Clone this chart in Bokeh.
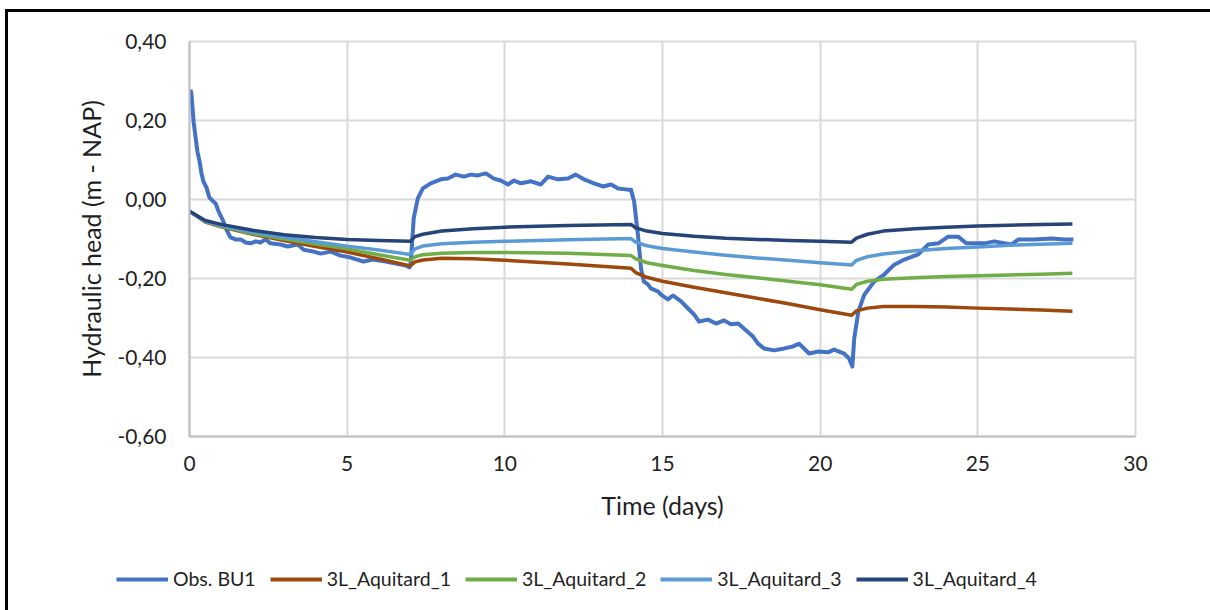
from bokeh.plotting import figure
from bokeh.models import (Legend, LegendItem, FixedTicker, Range1d, CustomJSTickFormatter,
                          InlineStyleSheet)
from bokeh.embed import file_html
from bokeh.resources import INLINE

# Observed hydraulic head at BU1 (time in days, head in m - NAP)
obs_t = [0.03, 0.06, 0.13, 0.19, 0.25, 0.32, 0.38, 0.44, 0.54, 0.63, 0.73, 0.83, 0.92,
         1.05, 1.17, 1.30, 1.46, 1.62, 1.78, 1.94, 2.10, 2.25, 2.41, 2.57, 2.89, 3.11,
         3.43, 3.62, 3.94, 4.16, 4.48, 4.79, 5.11, 5.52, 5.81, 6.22, 6.54, 6.86, 6.98,
         7.02, 7.11, 7.24, 7.40, 7.65, 7.97, 8.19, 8.44, 8.70, 8.92, 9.14, 9.40, 9.65,
         9.87, 10.10, 10.29, 10.51, 10.83, 11.14, 11.37, 11.68, 12.00, 12.25, 12.51,
         12.83, 13.11, 13.37, 13.59, 13.90, 14.00, 14.10, 14.22, 14.32, 14.41, 14.54,
         14.63, 14.86, 14.95, 15.17, 15.33, 15.59, 15.81, 16.00, 16.16, 16.44, 16.70,
         16.95, 17.17, 17.40, 17.59, 17.87, 18.03, 18.22, 18.54, 18.86, 19.14, 19.33,
         19.65, 19.94, 20.25, 20.44, 20.76, 20.92, 21.02, 21.08, 21.21, 21.40, 21.71,
         22.03, 22.35, 22.67, 23.11, 23.43, 23.75, 24.06, 24.38, 24.63, 25.21, 25.52,
         26.06, 26.29, 26.79, 27.33, 27.75, 28.03]
obs_h = [0.278, 0.268, 0.197, 0.159, 0.122, 0.096, 0.066, 0.046, 0.030, 0.005, -0.003,
         -0.010, -0.030, -0.051, -0.076, -0.096, -0.101, -0.101, -0.109, -0.111, -0.106,
         -0.109, -0.101, -0.111, -0.114, -0.119, -0.114, -0.127, -0.132, -0.137, -0.132,
         -0.142, -0.147, -0.157, -0.152, -0.157, -0.162, -0.167, -0.172, -0.157, -0.048,
         0.003, 0.028, 0.041, 0.051, 0.053, 0.063, 0.058, 0.063, 0.061, 0.066, 0.053,
         0.048, 0.038, 0.048, 0.041, 0.046, 0.038, 0.058, 0.051, 0.053, 0.063, 0.051,
         0.041, 0.033, 0.038, 0.028, 0.025, 0.025, -0.005, -0.089, -0.175, -0.208,
         -0.215, -0.225, -0.233, -0.241, -0.253, -0.243, -0.258, -0.276, -0.291, -0.309,
         -0.304, -0.314, -0.306, -0.316, -0.314, -0.327, -0.347, -0.365, -0.377, -0.382,
         -0.377, -0.372, -0.365, -0.390, -0.385, -0.387, -0.380, -0.390, -0.403, -0.423,
         -0.352, -0.284, -0.241, -0.208, -0.190, -0.165, -0.152, -0.139, -0.114, -0.111,
         -0.094, -0.094, -0.111, -0.111, -0.106, -0.114, -0.101, -0.101, -0.099, -0.101,
         -0.101]

# Simulated heads of the three-layer model, one series per aquitard
model_t = [0, 0.5, 1, 2, 3, 4, 5, 6, 7, 7.15, 7.4, 8, 9, 10, 12, 14, 14.15, 14.5, 15,
           16, 17, 18, 19, 20, 21, 21.15, 21.5, 22, 23, 24, 25, 26, 27, 28]
aquitard_1 = [-0.030, -0.057, -0.069, -0.088, -0.104, -0.119, -0.133, -0.150, -0.168,
              -0.158, -0.153, -0.149, -0.150, -0.154, -0.163, -0.174, -0.185, -0.197,
              -0.207, -0.222, -0.236, -0.250, -0.264, -0.279, -0.293, -0.282, -0.275,
              -0.271, -0.271, -0.272, -0.275, -0.277, -0.280, -0.283]
aquitard_2 = [-0.030, -0.056, -0.068, -0.086, -0.100, -0.113, -0.125, -0.140, -0.154,
              -0.145, -0.140, -0.136, -0.134, -0.134, -0.136, -0.142, -0.150, -0.160,
              -0.167, -0.180, -0.190, -0.198, -0.207, -0.216, -0.227, -0.215, -0.207,
              -0.202, -0.198, -0.195, -0.193, -0.191, -0.189, -0.187]
aquitard_3 = [-0.030, -0.055, -0.066, -0.083, -0.095, -0.107, -0.118, -0.128, -0.139,
              -0.125, -0.118, -0.112, -0.108, -0.106, -0.102, -0.099, -0.108, -0.117,
              -0.124, -0.133, -0.141, -0.148, -0.154, -0.160, -0.166, -0.154, -0.145,
              -0.138, -0.130, -0.124, -0.120, -0.116, -0.113, -0.111]
aquitard_4 = [-0.030, -0.053, -0.063, -0.078, -0.089, -0.096, -0.101, -0.104, -0.106,
              -0.094, -0.088, -0.080, -0.074, -0.070, -0.066, -0.063, -0.072, -0.080,
              -0.086, -0.093, -0.098, -0.101, -0.104, -0.106, -0.108, -0.098, -0.088,
              -0.080, -0.074, -0.070, -0.067, -0.065, -0.063, -0.062]

series_names = ["Obs. BU1", "3L_Aquitard_1", "3L_Aquitard_2", "3L_Aquitard_3", "3L_Aquitard_4"]
series_colors = ["#4472c4", "#9e480e", "#70ad47", "#5b9bd5", "#264478"]

x_ticks = [0, 5, 10, 15, 20, 25, 30]
y_ticks = [-0.6, -0.4, -0.2, 0.0, 0.2, 0.4]

FONT = "Lato"
TEXT = "#1f1f1f"
GRID = "#d9d9d9"
WIDTH = 1210

# black frame edge along the left and top of the whole chart: an inset black
# band with a narrower white band over it, showing through the transparent border
EDGE_TOP = "inset 5px 9px 0 0 #fff, inset 8px 12px 0 0 #000"
EDGE_LEFT = "inset 5px 0 0 0 #fff, inset 8px 0 0 0 #000"

# no scrollbars inside the plot elements
NO_SCROLL = InlineStyleSheet(css=":host { overflow: hidden !important; } "
                                 "* { scrollbar-width: none !important; overflow: hidden !important; } "
                                 "::-webkit-scrollbar { display: none; width: 0; height: 0; }")

# ---- chart ----
p = figure(width=WIDTH, height=540, output_backend="svg", toolbar_location=None,
           x_range=Range1d(0, 30), y_range=Range1d(-0.6, 0.4),
           min_border_left=189, min_border_right=WIDTH - 1135, min_border_top=41,
           min_border_bottom=104, styles={"box-shadow": EDGE_TOP, "overflow": "hidden"},
           stylesheets=[NO_SCROLL])
p.background_fill_color = "white"
p.border_fill_alpha = 0
p.outline_line_color = GRID
p.outline_line_width = 2

for ax in (p.xaxis[0], p.yaxis[0]):
    ax.axis_line_color = "#bfbfbf"
    ax.axis_line_width = 2
    ax.major_tick_line_color = None
    ax.minor_tick_line_color = None
    ax.major_tick_out = 0
    ax.major_tick_in = 0
    ax.major_label_text_font = FONT
    ax.major_label_text_font_size = "21px"
    ax.major_label_text_color = TEXT
    ax.axis_label_text_font = FONT
    ax.axis_label_text_font_size = "25px"
    ax.axis_label_text_font_style = "normal"
    ax.axis_label_text_color = TEXT

p.xaxis.ticker = FixedTicker(ticks=x_ticks)
p.yaxis.ticker = FixedTicker(ticks=y_ticks)
p.yaxis.formatter = CustomJSTickFormatter(code="return tick.toFixed(2).replace('.', ',');")
p.xaxis.axis_label = "Time (days)"
p.yaxis.axis_label = "Hydraulic head (m - NAP)"
p.xaxis.major_label_standoff = 19
p.xaxis.axis_label_standoff = 16
p.yaxis.major_label_standoff = 23
p.yaxis.axis_label_standoff = 8

p.xgrid.grid_line_color = GRID
p.ygrid.grid_line_color = GRID
p.xgrid.grid_line_width = 2
p.ygrid.grid_line_width = 2

series = [(obs_t, obs_h, 4.0), (model_t, aquitard_1, 3.5), (model_t, aquitard_2, 3.5),
          (model_t, aquitard_3, 3.5), (model_t, aquitard_4, 3.5)]
for (t, h, w), c in zip(series, series_colors):
    p.line(t, h, line_color=c, line_width=w, line_join="round")

# ---- legend strip under the chart (a separate root, so its frame spans the width) ----
leg = figure(width=WIDTH, height=70, output_backend="svg", toolbar_location=None,
             x_range=Range1d(0, WIDTH), y_range=Range1d(0, 70),
             x_axis_type=None, y_axis_type=None, min_border=0,
             styles={"box-shadow": EDGE_LEFT, "overflow": "hidden"},
             stylesheets=[NO_SCROLL])
leg.outline_line_color = None
leg.background_fill_alpha = 0
leg.border_fill_alpha = 0
items = []
for c, name in zip(series_colors, series_names):
    # placeholder renderer carrying the line style for the legend sample
    r = leg.line([float("nan")], [float("nan")], line_color=c, line_width=4)
    items.append(LegendItem(label=name, renderers=[r]))

legend = Legend(items=items, orientation="horizontal", location=(116, 20))
legend.label_text_font = FONT
legend.label_text_font_size = "19.5px"
legend.label_text_color = TEXT
legend.glyph_width = 52
legend.glyph_height = 20
legend.label_standoff = 5
legend.spacing = 14
legend.padding = 0
legend.margin = 0
legend.border_line_alpha = 0
legend.background_fill_alpha = 0
leg.add_layout(legend, "center")

# keep the page from scrolling so no scrollbar is drawn over the chart
page_css = ("<style>html, body { overflow: hidden; background: #fff; scrollbar-width: none; } "
            "::-webkit-scrollbar { display: none; width: 0; height: 0; }</style>")
open("out.html", "w").write(file_html([p, leg], INLINE).replace("</head>", page_css + "</head>", 1))
